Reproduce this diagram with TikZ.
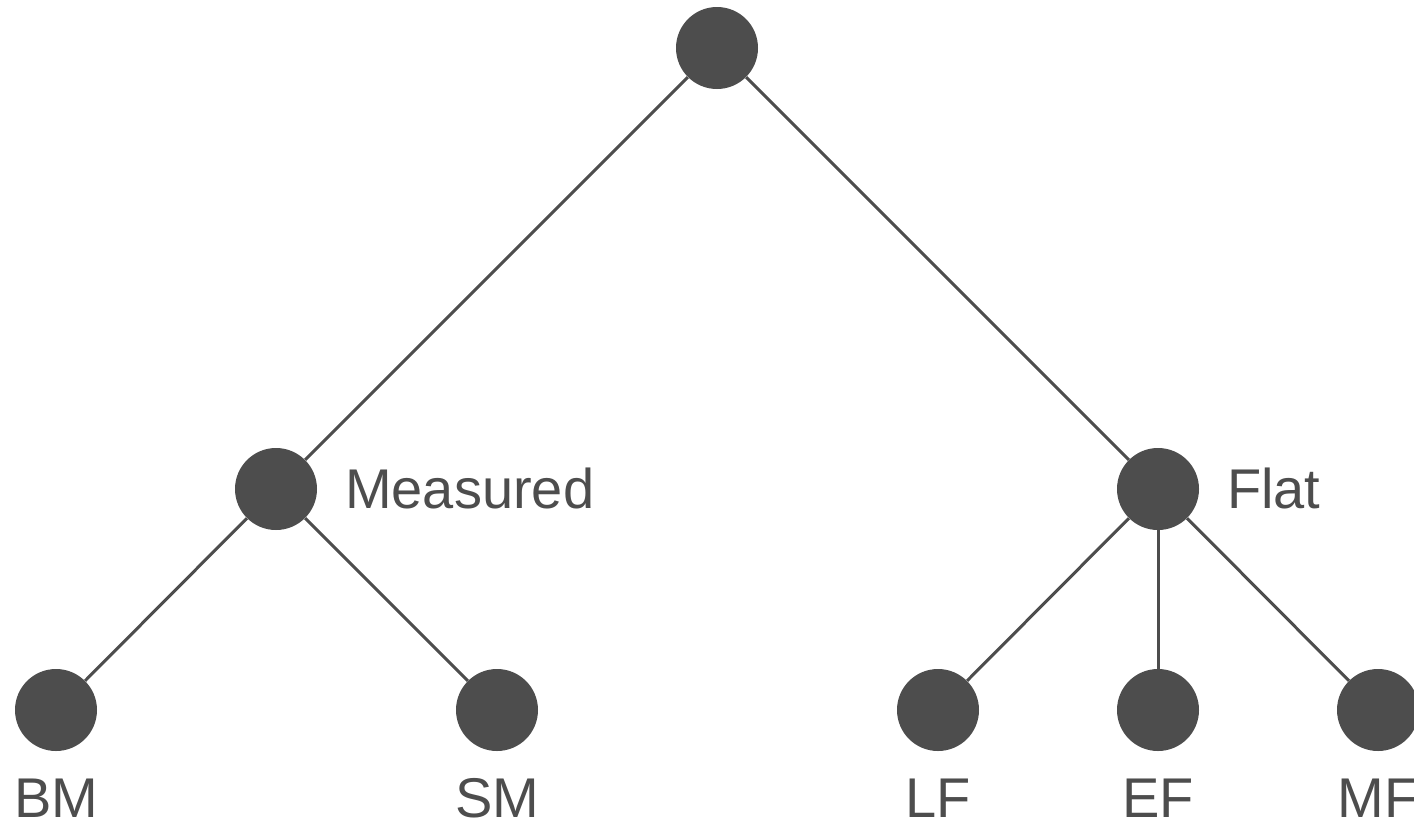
\documentclass[tikz,border=0pt]{standalone}
\usepackage{fontspec}
\setmainfont{Liberation Sans}
\definecolor{ink}{HTML}{4D4D4D}
\begin{document}
\begin{tikzpicture}[x=1pt,y=-1pt,
  dot/.style={circle,fill=ink,draw=none,minimum size=82pt,inner sep=0pt},
  edge/.style={draw=ink,line width=3pt},
  lbl/.style={text=ink,inner sep=0pt,font=\fontsize{56}{60}\selectfont}]
\useasboundingbox (0,0) rectangle (1414,823);
\clip (0,0) rectangle (1414,823);
\node[dot] (root) at (717,48) {};
\node[dot] (meas) at (276,489) {};
\node[dot] (flat) at (1158,489) {};
\node[dot] (bm) at (56,710) {};
\node[dot] (sm) at (497,710) {};
\node[dot] (lf) at (938,710) {};
\node[dot] (ef) at (1158,710) {};
\node[dot] (mf) at (1378,710) {};
\draw[edge] (root) -- (meas);
\draw[edge] (root) -- (flat);
\draw[edge] (meas) -- (bm);
\draw[edge] (meas) -- (sm);
\draw[edge] (flat) -- (lf);
\draw[edge] (flat) -- (ef);
\draw[edge] (flat) -- (mf);
\node[lbl,anchor=base west] (tmeas) at (345,508) {Measured};
\node[lbl,anchor=base west] (tflat) at (1227,508) {Flat};
\node[lbl,anchor=base] (tbm) at (56,817) {BM};
\node[lbl,anchor=base] (tsm) at (497,817) {SM};
\node[lbl,anchor=base] (tlf) at (938,817) {LF};
\node[lbl,anchor=base] (tef) at (1158,817) {EF};
\node[lbl,anchor=base] (tmf) at (1378,817) {MF};
\end{tikzpicture}
\end{document}
